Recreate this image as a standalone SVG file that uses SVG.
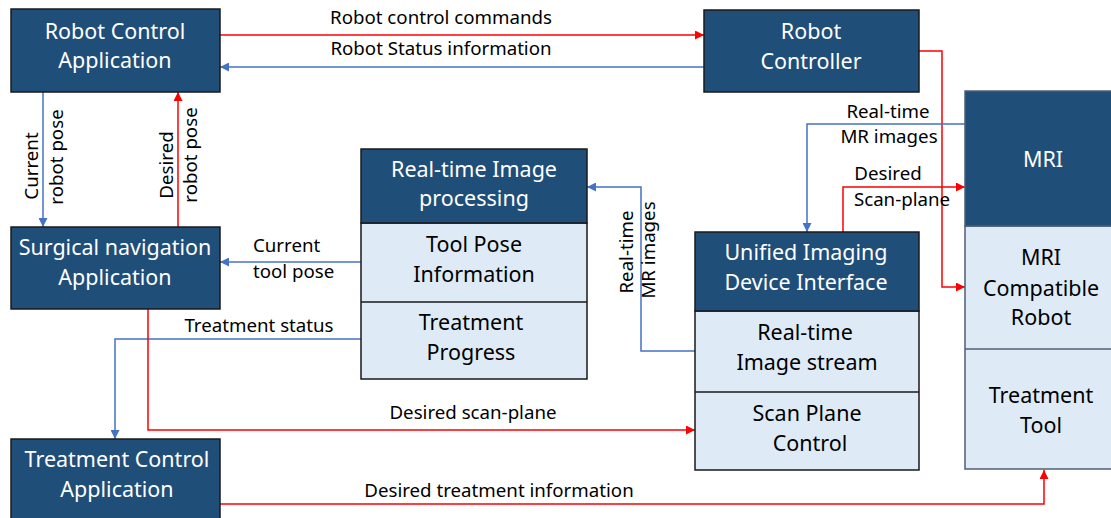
<svg xmlns="http://www.w3.org/2000/svg" width="1111" height="518" viewBox="0 0 1111 518">
<style>
.dark{fill:#1F4E79;stroke:#1a1a1a;stroke-width:1.5}
.light{fill:#DEEBF7;stroke:#1a1a1a;stroke-width:1.5}
.mdark{fill:#1F4E79;stroke:#4F5F73;stroke-width:1.5}
.mlight{fill:#DEEBF7;stroke:#4F5F73;stroke-width:1.5}
.wt{font-family:"Noto Sans","Open Sans",sans-serif;font-size:21.5px;fill:#ffffff;text-anchor:middle}
.bt{font-family:"Noto Sans","Open Sans",sans-serif;font-size:21.5px;fill:#000000;text-anchor:middle}
.lbl{font-family:"Noto Sans","Open Sans",sans-serif;font-size:18.7px;fill:#000000;text-anchor:middle}
.lbll{font-family:"Noto Sans","Open Sans",sans-serif;font-size:18.7px;fill:#000000;text-anchor:start}
.red{fill:none;stroke:#FF0000;stroke-width:1.5}
.blue{fill:none;stroke:#4472C4;stroke-width:1.5}
</style>
<defs>
<marker id="ar" viewBox="0 0 10 10" refX="10" refY="5" markerUnits="userSpaceOnUse" markerWidth="10" markerHeight="9" orient="auto"><path d="M0,0 L10,5 L0,10 z" fill="#FF0000"/></marker>
<marker id="ab" viewBox="0 0 10 10" refX="10" refY="5" markerUnits="userSpaceOnUse" markerWidth="10" markerHeight="9" orient="auto"><path d="M0,0 L10,5 L0,10 z" fill="#4472C4"/></marker>
</defs>
<rect width="1111" height="518" fill="#ffffff"/>

<g id="connectors">
<path class="red" d="M220,35 H704" marker-end="url(#ar)"/>
<path class="blue" d="M704,67 H220" marker-end="url(#ab)"/>
<path class="blue" d="M43,92 V227" marker-end="url(#ab)"/>
<path class="red" d="M178,227 V92" marker-end="url(#ar)"/>
<path class="blue" d="M361,262 H220" marker-end="url(#ab)"/>
<path class="blue" d="M361,339 H115 V439" marker-end="url(#ab)"/>
<path class="red" d="M148,309 V430 H695" marker-end="url(#ar)"/>
<path class="red" d="M220,504 H1044 V470" marker-end="url(#ar)"/>
<path class="blue" d="M695,351 H641 V187 H587" marker-end="url(#ab)"/>
<path class="red" d="M919,51 H942 V287 H965" marker-end="url(#ar)"/>
<path class="blue" d="M965,124 H807 V232" marker-end="url(#ab)"/>
<path class="red" d="M843,232 V187 H965" marker-end="url(#ar)"/>

<text class="lbl" x="441" y="24">Robot control commands</text>
<text class="lbl" x="441" y="55">Robot Status information</text>
<text class="lbl" transform="translate(38,166) rotate(-90)">Current</text>
<text class="lbl" transform="translate(63,157) rotate(-90)">robot pose</text>
<text class="lbl" transform="translate(173,165) rotate(-90)">Desired</text>
<text class="lbl" transform="translate(197,155) rotate(-90)">robot pose</text>
<text class="lbll" x="253" y="252">Current</text>
<text class="lbll" x="253" y="278">tool pose</text>
<text class="lbl" x="259" y="332">Treatment status</text>
<text class="lbl" x="473" y="419">Desired scan-plane</text>
<text class="lbl" x="499" y="497">Desired treatment information</text>
<text class="lbl" transform="translate(633,252) rotate(-90)">Real-time</text>
<text class="lbl" transform="translate(655,250) rotate(-90)">MR images</text>
<text class="lbl" x="888" y="118">Real-time</text>
<text class="lbl" x="889" y="143">MR images</text>
<text class="lbl" x="888" y="180">Desired</text>
<text class="lbl" x="902" y="206">Scan-plane</text>
</g>

<g id="robot-control-application">
<rect class="dark" x="11" y="9" width="209" height="83"/>
<text class="wt" x="115" y="39">Robot Control</text>
<text class="wt" x="115" y="68">Application</text>
</g>

<g id="robot-controller">
<rect class="dark" x="704" y="10" width="215" height="82"/>
<text class="wt" x="811" y="39">Robot</text>
<text class="wt" x="811" y="69">Controller</text>
</g>

<g id="surgical-navigation-application">
<rect class="dark" x="11" y="227" width="209" height="82"/>
<text class="wt" x="115" y="255">Surgical navigation</text>
<text class="wt" x="115" y="285">Application</text>
</g>

<g id="treatment-control-application">
<rect class="dark" x="11" y="439" width="209" height="90"/>
<text class="wt" x="117" y="467">Treatment Control</text>
<text class="wt" x="117" y="497">Application</text>
</g>

<g id="real-time-image-processing">
<rect class="light" x="361" y="223" width="226" height="156"/>
<rect class="dark" x="361" y="149" width="226" height="74"/>
<line x1="361" y1="302" x2="587" y2="302" stroke="#1a1a1a" stroke-width="1.5"/>
<text class="wt" x="474" y="177">Real-time Image</text>
<text class="wt" x="474" y="206">processing</text>
<text class="bt" x="474" y="252">Tool Pose</text>
<text class="bt" x="474" y="282">Information</text>
<text class="bt" x="471" y="330">Treatment</text>
<text class="bt" x="471" y="360">Progress</text>
</g>

<g id="unified-imaging-device-interface">
<rect class="light" x="695" y="311" width="224" height="159"/>
<rect class="dark" x="695" y="232" width="224" height="79"/>
<line x1="695" y1="392" x2="919" y2="392" stroke="#1a1a1a" stroke-width="1.5"/>
<text class="wt" x="806" y="260">Unified Imaging</text>
<text class="wt" x="806" y="290">Device Interface</text>
<text class="bt" x="805" y="340">Real-time</text>
<text class="bt" x="807" y="370">Image stream</text>
<text class="bt" x="807" y="421">Scan Plane</text>
<text class="bt" x="810" y="451">Control</text>
</g>

<g id="mri">
<rect class="mlight" x="965" y="226" width="160" height="243"/>
<rect class="mdark" x="965" y="91" width="160" height="135"/>
<line x1="965" y1="349" x2="1125" y2="349" stroke="#4F5F73" stroke-width="1.5"/>
<text class="wt" x="1043" y="167">MRI</text>
<text class="bt" x="1041" y="265">MRI</text>
<text class="bt" x="1041" y="296">Compatible</text>
<text class="bt" x="1041" y="325">Robot</text>
<text class="bt" x="1041" y="403">Treatment</text>
<text class="bt" x="1041" y="433">Tool</text>
</g>
</svg>
